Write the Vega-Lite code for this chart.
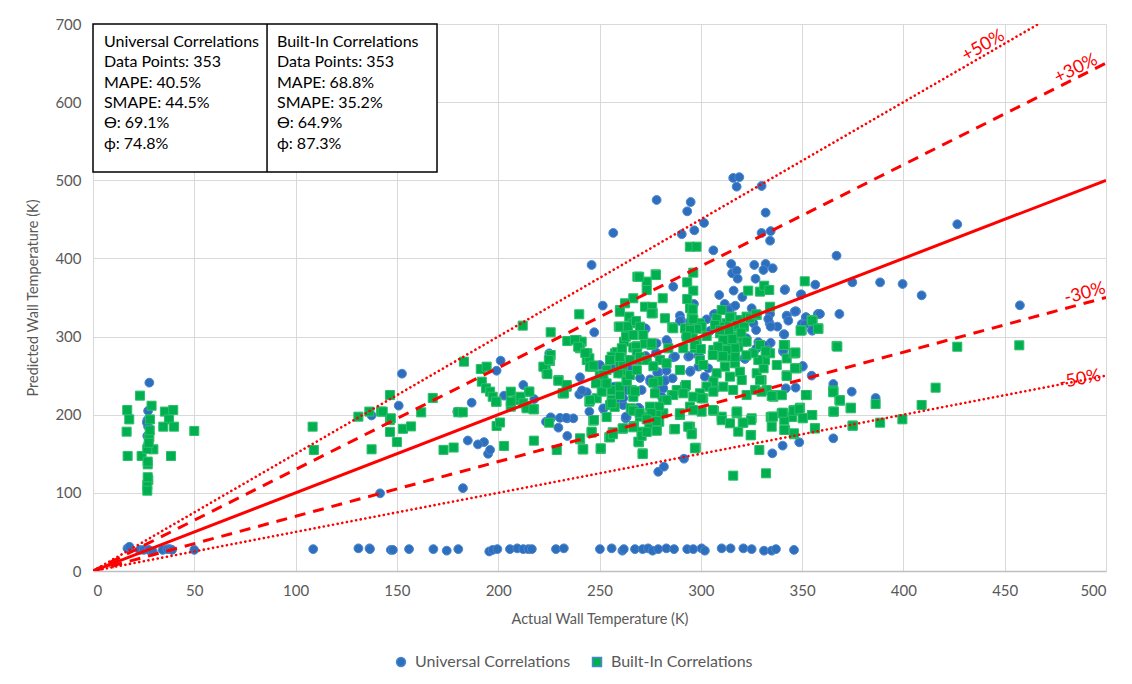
{
  "$schema": "https://vega.github.io/schema/vega-lite/v6.json",
  "width": 1013,
  "height": 547,
  "autosize": {"type": "none"},
  "padding": {"left": 93, "top": 24, "right": 26, "bottom": 113},
  "background": "white",
  "config": {
    "font": "Lato",
    "view": {"stroke": null},
    "axis": {
      "labelFont": "Lato", "titleFont": "Lato",
      "labelFontSize": 15, "titleFontSize": 14.5,
      "labelColor": "#595959", "titleColor": "#595959",
      "titleFontWeight": "normal",
      "gridColor": "#d9d9d9", "gridWidth": 1,
      "ticks": false
    },
    "legend": {"labelFont": "Lato", "labelFontSize": 16, "labelColor": "#595959"}
  },
  "datasets": {
    "universal": [
      {"x":27.8,"y":241},{"x":27.2,"y":205},{"x":26.8,"y":193},{"x":26.6,"y":190},{"x":27.2,"y":185},{"x":26.8,"y":173},
      {"x":17,"y":29},{"x":18,"y":31},{"x":23,"y":27},{"x":25,"y":27},{"x":27.5,"y":27},{"x":29.5,"y":25},{"x":34.4,"y":27},{"x":36.7,"y":28},{"x":38,"y":28},{"x":39,"y":27},{"x":50,"y":27},
      {"x":108.7,"y":28},{"x":131,"y":29},{"x":136.5,"y":29},{"x":136.7,"y":28},{"x":147,"y":27},{"x":148,"y":27},{"x":156,"y":28},{"x":168,"y":28},{"x":174.6,"y":26},{"x":180.3,"y":28},{"x":195.6,"y":25},{"x":197.3,"y":27},{"x":199.6,"y":28},{"x":205.8,"y":28},{"x":209.4,"y":29},{"x":212.4,"y":28},{"x":214.9,"y":28},{"x":216.6,"y":28},{"x":228.5,"y":28},{"x":232.4,"y":29},{"x":250.2,"y":28},{"x":256,"y":29},{"x":261.3,"y":26},{"x":262,"y":28},{"x":267.5,"y":28},{"x":271.3,"y":28},{"x":274,"y":29},{"x":276.2,"y":26},{"x":279,"y":28},{"x":283,"y":29},{"x":286.8,"y":28},{"x":293.3,"y":28},{"x":296.3,"y":28},{"x":300.4,"y":29},{"x":302,"y":26},{"x":310.3,"y":29},{"x":314.7,"y":29},{"x":321,"y":29},{"x":325.1,"y":28},{"x":331.2,"y":26},{"x":335,"y":26},{"x":337.1,"y":28},{"x":346,"y":27},
      {"x":141.7,"y":99.4},{"x":137.5,"y":199},{"x":150.9,"y":211.6},{"x":152.5,"y":252.5},{"x":182.6,"y":106},{"x":185,"y":167},{"x":193,"y":165},{"x":195,"y":150},{"x":190,"y":162},{"x":196,"y":155},{"x":179.8,"y":203.9},{"x":186.9,"y":215.4},{"x":201.2,"y":269.2},{"x":199.2,"y":256.3},{"x":202.9,"y":224.4},{"x":212.4,"y":238},{"x":217.8,"y":220},{"x":223.6,"y":191},{"x":226.1,"y":195.4},{"x":229.7,"y":183.4},{"x":234.1,"y":195.4},{"x":237.1,"y":195.4},{"x":234.1,"y":172.8},{"x":225.2,"y":278.6},{"x":225.9,"y":196.7},{"x":230.5,"y":196},{"x":233.5,"y":196},{"x":240.4,"y":247.9},{"x":240,"y":226},{"x":243.7,"y":228.7},{"x":241.3,"y":231},{"x":245,"y":204},{"x":251.9,"y":207.3},{"x":246.1,"y":391.6},{"x":256.8,"y":432.6},{"x":251.6,"y":339.6},{"x":247.4,"y":305.5},{"x":263.4,"y":196.7},{"x":255,"y":261.4},{"x":264.2,"y":259.4},{"x":250.2,"y":263.6},{"x":262.9,"y":195.4},{"x":269.6,"y":208.2},{"x":279,"y":127},{"x":281.8,"y":133.5},{"x":291.7,"y":143.7},{"x":257.2,"y":235.9},{"x":261,"y":227.4},{"x":263.4,"y":231.6},{"x":259.3,"y":218.8},{"x":261.7,"y":212.4},{"x":266.7,"y":223},{"x":270.8,"y":231.6},{"x":275,"y":242.3},{"x":278.2,"y":231.6},{"x":278.2,"y":278.6},{"x":272.8,"y":310},{"x":278.2,"y":291.4},
      {"x":316,"y":503},{"x":319,"y":504},{"x":317.7,"y":491.8},{"x":330,"y":492.7},{"x":278.2,"y":474.8},{"x":295,"y":472.2},{"x":293.3,"y":460.3},{"x":332,"y":458.6},{"x":290.6,"y":431},{"x":296.8,"y":436},{"x":301.6,"y":445.4},{"x":330,"y":432.6},{"x":334.5,"y":435},{"x":334.2,"y":422.7},{"x":306.2,"y":410.4},{"x":367,"y":403.5},{"x":315,"y":392.9},{"x":326.4,"y":391.6},{"x":332,"y":392.9},{"x":335.5,"y":387.4},{"x":330.9,"y":385.2},{"x":315.5,"y":381},{"x":317.7,"y":384.3},{"x":318.2,"y":374.1},{"x":327,"y":374},{"x":341.6,"y":360.5},{"x":356.5,"y":366.4},{"x":374.8,"y":369.4},{"x":316.2,"y":358.8},{"x":286.4,"y":363.8},{"x":309.1,"y":353.2},{"x":320.5,"y":350.6},{"x":349.4,"y":353.6},{"x":296.6,"y":341.7},{"x":311.8,"y":341.7},{"x":314.7,"y":336.2},{"x":317,"y":339.5},{"x":325.1,"y":336.2},{"x":342.4,"y":326.8},{"x":347,"y":332.3},{"x":351.8,"y":324.7},{"x":357.8,"y":328.9},{"x":368.4,"y":328.9},{"x":289.7,"y":326.8},{"x":302.9,"y":322.1},{"x":290.2,"y":321.2},{"x":272.6,"y":310.6},{"x":307,"y":328.9},{"x":326,"y":317},{"x":334.2,"y":328.9},{"x":334,"y":317},{"x":337.8,"y":312.7},{"x":349.8,"y":316},{"x":355,"y":307.5},{"x":341,"y":302.9},{"x":294.3,"y":302},{"x":283.5,"y":293.5},{"x":297.6,"y":293.4},{"x":328.4,"y":293},{"x":334.5,"y":292},{"x":327.3,"y":284.1},{"x":340.6,"y":280.7},{"x":277.9,"y":279.4},{"x":272.8,"y":275.1},{"x":267.8,"y":270},{"x":286.4,"y":273.5},{"x":293.8,"y":274.3},{"x":298.8,"y":275.6},{"x":321.8,"y":271.3},{"x":350.3,"y":261.5},{"x":303.7,"y":259.4},{"x":295,"y":256.3},{"x":279.2,"y":254.3},{"x":283.1,"y":256.3},{"x":256.2,"y":259.4},{"x":264.6,"y":258.5},{"x":354.7,"y":250},{"x":282.3,"y":244.4},{"x":275,"y":245.3},{"x":270,"y":247},{"x":258.8,"y":227.4},{"x":261.7,"y":221},{"x":251.9,"y":208.2},{"x":269.6,"y":208},{"x":263,"y":197.5},{"x":365.4,"y":239.3},{"x":374.5,"y":229.5},{"x":342,"y":233.8},{"x":346.8,"y":234.6},{"x":281.5,"y":233.8},{"x":302.9,"y":235.9},{"x":307,"y":233},
      {"x":313.6,"y":334},{"x":346.3,"y":331.8},{"x":289.7,"y":320},{"x":306.5,"y":328.5},{"x":333.3,"y":322.5},{"x":334.5,"y":312.7},{"x":320.2,"y":319.5},{"x":327.3,"y":308.4},{"x":355.5,"y":309.7},{"x":304.5,"y":307.2},{"x":294.7,"y":319},{"x":283.1,"y":295.6},{"x":292.7,"y":299.9},{"x":297.9,"y":291.4},{"x":322.6,"y":297.8},{"x":327.5,"y":285},{"x":331.7,"y":288},{"x":340.7,"y":282.8},{"x":294.3,"y":275},{"x":299.2,"y":275},{"x":287.3,"y":274.3},
      {"x":278.5,"y":253.8},{"x":282.3,"y":243.2},{"x":286.1,"y":246.6},{"x":298.8,"y":261.5},{"x":294.7,"y":255},{"x":302,"y":248.7},{"x":306.2,"y":244.4},{"x":321.5,"y":272.2},{"x":333,"y":283},{"x":350.3,"y":262.3},{"x":280.7,"y":223},{"x":348.6,"y":164.7},{"x":340.4,"y":160.4},{"x":335.3,"y":150.6},{"x":269.2,"y":209},{"x":365.4,"y":169.8},
      {"x":426.6,"y":443.7},{"x":388.5,"y":369.4},{"x":399.6,"y":367.3},{"x":409,"y":352.8},{"x":457.5,"y":340},{"x":358.8,"y":328.9},{"x":386.3,"y":221.4},
      {"x":341.4,"y":359.6},{"x":349.6,"y":354.1},{"x":342.4,"y":326.3},{"x":343.2,"y":320.3},{"x":346.7,"y":332.3},{"x":351.9,"y":324.7},{"x":351.3,"y":315.7},{"x":354.9,"y":308.4},{"x":341.2,"y":302.9}
    ],
    "builtin": [
      {"x":23.2,"y":224.4},{"x":16.9,"y":206},{"x":17.9,"y":194},{"x":16.6,"y":178.3},{"x":28.9,"y":211.5},{"x":28.1,"y":194},{"x":35.5,"y":204},{"x":39.6,"y":206},{"x":37.5,"y":194},{"x":34.7,"y":184.7},{"x":40,"y":184.7},{"x":27.8,"y":171},{"x":27.3,"y":158.3},{"x":29.8,"y":155.7},{"x":17.1,"y":147.2},{"x":24,"y":147.2},{"x":38.5,"y":147.2},{"x":27,"y":136.5},{"x":27.3,"y":116.5},{"x":26.8,"y":110},{"x":26.8,"y":102.8},{"x":50,"y":179.2},{"x":26.8,"y":156},{"x":27,"y":140},{"x":27,"y":120},{"x":27.5,"y":164},{"x":28,"y":180},
      {"x":108.4,"y":184.7},{"x":109,"y":154.8},{"x":131,"y":197.5},{"x":136.4,"y":204},{"x":142.2,"y":204},{"x":137.5,"y":155.7},{"x":146.6,"y":225.2},{"x":146.6,"y":193.2},{"x":146.6,"y":178},{"x":143,"y":204},{"x":147,"y":195.4},{"x":167.7,"y":221.4},{"x":180.3,"y":203.1},{"x":182.5,"y":203.1},{"x":183.1,"y":267.9},{"x":150,"y":165},{"x":153,"y":182},{"x":157,"y":185},{"x":173,"y":155},{"x":178,"y":158},{"x":162,"y":203},
      {"x":268.7,"y":376.6},{"x":266.7,"y":349},{"x":262.6,"y":342.6},{"x":260.1,"y":334},{"x":240,"y":328.5},{"x":212.1,"y":314},{"x":225.9,"y":305.5},{"x":234.1,"y":294.3},{"x":238.7,"y":295.6},{"x":241.2,"y":293.5},{"x":240.4,"y":285},{"x":244,"y":278.6},{"x":243.7,"y":270},{"x":246.6,"y":261.5},{"x":225.9,"y":276.4},{"x":225.6,"y":268.7},{"x":223.4,"y":260.7},{"x":223.9,"y":253},{"x":229.8,"y":244.4},{"x":233.8,"y":235.9},{"x":232.1,"y":227.4},{"x":191.4,"y":258.5},{"x":194.3,"y":261.5},{"x":191.9,"y":242.3},{"x":194,"y":233.8},{"x":196,"y":229.5},{"x":197.3,"y":223},{"x":199.2,"y":216.7},{"x":206.2,"y":229.5},{"x":209.1,"y":218.8},{"x":215.2,"y":229.5},{"x":214,"y":210.3},{"x":217.7,"y":207},{"x":206.2,"y":210.3},{"x":250.2,"y":248.7},{"x":252.7,"y":240},{"x":248.6,"y":221},{"x":245,"y":216.7},{"x":256,"y":218.8},{"x":255.5,"y":270},{"x":257.7,"y":278.6},{"x":260.1,"y":265.8},{"x":262.1,"y":293.5},{"x":259.5,"y":312.7},{"x":263.4,"y":304.2},{"x":264.7,"y":325.5},{"x":266.4,"y":317},{"x":258.5,"y":280},{"x":266.7,"y":286},{"x":268.7,"y":288},{"x":261,"y":253},{"x":263.4,"y":244.4},{"x":256.8,"y":231.6},{"x":266.7,"y":223},{"x":265.4,"y":208.2},
      {"x":277.7,"y":379.7},{"x":273.3,"y":370.3},{"x":273.3,"y":359.6},{"x":272.5,"y":338.2},{"x":276,"y":338},{"x":276.3,"y":329.8},{"x":260.1,"y":312.7},{"x":264,"y":313},{"x":263.1,"y":299.9},{"x":268,"y":320},{"x":268,"y":287},{"x":272.5,"y":291},{"x":275.7,"y":289.2},{"x":260.9,"y":280.7},{"x":256,"y":274.3},{"x":237.9,"y":295.6},{"x":239.5,"y":287},
      {"x":294.6,"y":415},{"x":297.9,"y":415},{"x":269.6,"y":376.6},{"x":277.9,"y":378.8},{"x":296.3,"y":381.8},{"x":293.3,"y":369.4},{"x":296.3,"y":358.8},{"x":281.2,"y":349},{"x":293.3,"y":348.1},{"x":323.4,"y":358.8},{"x":329.2,"y":357.5},{"x":331.3,"y":365.1},{"x":333.8,"y":359.6},{"x":351.3,"y":370.7},{"x":260.1,"y":331.8},{"x":275.7,"y":329.8},{"x":282.3,"y":323.4},{"x":294.7,"y":336.2},{"x":295.5,"y":323.4},{"x":334.2,"y":338.2},{"x":315.2,"y":325.5},{"x":319.3,"y":321.2},{"x":322.6,"y":325.5},{"x":327.6,"y":327.6},{"x":312.7,"y":317},{"x":309.5,"y":312.7},{"x":299.6,"y":317},{"x":292.2,"y":310.6},{"x":285.9,"y":311.9},{"x":270,"y":312.7},{"x":266.7,"y":302},{"x":271.6,"y":302},{"x":261,"y":285},{"x":268.4,"y":278.6},{"x":275.7,"y":291.4},{"x":270.8,"y":270},{"x":279.9,"y":270},{"x":284,"y":285},{"x":283.1,"y":265.8},{"x":289.7,"y":257.2},{"x":294.7,"y":299.9},{"x":297.9,"y":293.5},{"x":297,"y":285},{"x":299.6,"y":270},{"x":301.2,"y":263.6},{"x":306.2,"y":282.8},{"x":309.5,"y":304.2},{"x":312.7,"y":308.4},{"x":315.2,"y":299.9},{"x":317.7,"y":312.7},{"x":319.3,"y":300},{"x":321,"y":293.5},{"x":318.5,"y":287},{"x":313.6,"y":287},{"x":309.5,"y":287},{"x":310.3,"y":274.3},{"x":314.9,"y":274.3},{"x":311.9,"y":261.5},{"x":316.9,"y":265.8},{"x":319.3,"y":255},{"x":314.4,"y":248.7},{"x":307.8,"y":253},{"x":306.2,"y":242.3},{"x":302.9,"y":236},{"x":299.6,"y":227.4},{"x":301.2,"y":221},{"x":296.3,"y":223},{"x":292.2,"y":236},{"x":288.1,"y":231.6},{"x":285.6,"y":225.2},{"x":281.5,"y":218.8},{"x":277.4,"y":227.4},{"x":274.9,"y":210.3},{"x":266.7,"y":206},{"x":270,"y":197.5},{"x":281.5,"y":201.8},{"x":289.7,"y":199.6},{"x":294.7,"y":210.3},{"x":300.4,"y":203.9},{"x":310.3,"y":197.5},{"x":317.7,"y":201.8},{"x":325.1,"y":195.4},{"x":322.6,"y":225.2},{"x":326.8,"y":231.6},{"x":330,"y":244.4},{"x":327.6,"y":253},{"x":331,"y":259.4},{"x":331.7,"y":270},{"x":328.4,"y":270},{"x":326,"y":278.6},{"x":329.2,"y":289.2},{"x":334.2,"y":278.6},{"x":332.5,"y":231.6},{"x":335.8,"y":223},{"x":337.5,"y":263.6},{"x":341.6,"y":289.2},{"x":342.4,"y":250.4},{"x":346.5,"y":279.4},{"x":347.3,"y":259.4},{"x":342.4,"y":272},{"x":352.3,"y":225.2},{"x":349.8,"y":308.4},{"x":354.7,"y":321.2},{"x":358,"y":310.6},{"x":367,"y":288},{"x":365.4,"y":229.5},{"x":368.4,"y":218.8},{"x":374,"y":208.2},{"x":365.4,"y":204},{"x":347.3,"y":206},{"x":339.9,"y":201.8},{"x":345,"y":197},{"x":334.5,"y":197},{"x":255.2,"y":270},{"x":253.5,"y":257.2},{"x":250.2,"y":250},{"x":251.9,"y":242.3},{"x":259.3,"y":253},{"x":256,"y":231.6},{"x":260.1,"y":225.2},{"x":255.2,"y":212.4},{"x":265.9,"y":231.6},{"x":257.5,"y":210},{"x":253.5,"y":197},
      {"x":296,"y":334.9},{"x":296.3,"y":322.1},{"x":286.4,"y":310.6},{"x":307.8,"y":323.4},{"x":310.3,"y":334},{"x":314.4,"y":324.7},{"x":317.7,"y":314.8},{"x":321.3,"y":312.7},{"x":324.3,"y":323.4},{"x":327.3,"y":328.5},{"x":307,"y":314.8},{"x":300.4,"y":312.7},{"x":298,"y":310},{"x":302.9,"y":300.8},{"x":309.5,"y":308.4},{"x":314,"y":308},{"x":311.1,"y":295.6},{"x":315.6,"y":297},{"x":320,"y":305},{"x":322.6,"y":293.5},{"x":316.9,"y":285},{"x":312.7,"y":282.8},{"x":308.6,"y":287},{"x":305.9,"y":276.4},{"x":311,"y":275},{"x":317,"y":274},{"x":322.5,"y":276},{"x":294.7,"y":308.4},{"x":296,"y":297.8},{"x":297.1,"y":289.2},{"x":293,"y":300},{"x":291.4,"y":285},{"x":300,"y":284},{"x":341.2,"y":289.2},{"x":345.7,"y":278.6},{"x":355.2,"y":321.2},{"x":358,"y":309.7},{"x":349.4,"y":308.4},{"x":332,"y":281},
      {"x":306.5,"y":205.1},{"x":310.3,"y":193},{"x":314.4,"y":189},{"x":318.5,"y":178.3},{"x":320.7,"y":189.8},{"x":324.8,"y":174},{"x":324.8,"y":193},{"x":318,"y":203.9},{"x":335,"y":197.5},{"x":335,"y":184.7},{"x":340.7,"y":201.8},{"x":341.2,"y":193},{"x":341.6,"y":180.5},{"x":346,"y":175},{"x":350.3,"y":195.4},{"x":355,"y":199.6},{"x":356.4,"y":182.6},{"x":346,"y":206},{"x":349,"y":209},{"x":328.9,"y":154.8},{"x":316,"y":122},{"x":332.2,"y":125},{"x":297.5,"y":157.8},{"x":286.9,"y":181.3},{"x":294.7,"y":184.7},{"x":295.5,"y":177},{"x":306,"y":206},{"x":292.7,"y":238},{"x":291.4,"y":227.4},{"x":286.4,"y":225.2},{"x":283.1,"y":218.8},{"x":279.5,"y":210.3},{"x":278.2,"y":199.6},{"x":278.2,"y":180.5},{"x":296.3,"y":206},{"x":289.7,"y":201.8},{"x":300.4,"y":221},{"x":306.2,"y":229.5},{"x":311.1,"y":235.9},{"x":316,"y":231.6},{"x":330,"y":229.5},{"x":335.8,"y":225.2},{"x":329.2,"y":244.4},{"x":320.2,"y":244.4},{"x":342.4,"y":249.5},{"x":346.5,"y":259.4},{"x":352,"y":225.2},{"x":346.5,"y":278.6},
      {"x":231.8,"y":227.4},{"x":240.4,"y":168.5},{"x":241.7,"y":155.7},{"x":246.1,"y":177},{"x":250.6,"y":156.1},{"x":246.9,"y":192.4},{"x":254.8,"y":171.1},{"x":256.5,"y":177.5},{"x":261.4,"y":182.1},{"x":266.7,"y":205.1},{"x":269.5,"y":164.7},{"x":271.3,"y":150.6},{"x":267,"y":185.6},{"x":270.8,"y":178.3},{"x":273.3,"y":197.5},{"x":274.6,"y":187.7},{"x":278.2,"y":179.5},{"x":279.5,"y":191},{"x":287.3,"y":181.7},{"x":293.8,"y":184.7},{"x":295.5,"y":175},{"x":297.1,"y":157},{"x":321,"y":189.8},{"x":324.6,"y":173.7},{"x":317.7,"y":203.9},{"x":335.6,"y":197.5},{"x":340.4,"y":202.6},{"x":341.2,"y":180.5},{"x":346,"y":176.2},{"x":345.7,"y":205.1},{"x":348.6,"y":207},{"x":350.3,"y":196},{"x":351.9,"y":225.2},{"x":354.9,"y":199.6},{"x":356.3,"y":182.6},{"x":365.7,"y":204},{"x":365.4,"y":231},{"x":368.7,"y":218},{"x":374,"y":209},{"x":374.9,"y":186},{"x":340,"y":225},{"x":335,"y":224},
      {"x":355,"y":320.3},{"x":357.8,"y":310.1},{"x":349.3,"y":307.5},{"x":367.4,"y":287.1},{"x":426.6,"y":287},{"x":457.2,"y":288.8},{"x":341,"y":289.2},{"x":346.7,"y":279.4},{"x":365.4,"y":228.7},{"x":368.7,"y":218.4},{"x":374.1,"y":208.6},{"x":386.3,"y":213.7},{"x":375,"y":186},{"x":388.5,"y":189.8},{"x":399.5,"y":194.1},{"x":409,"y":212.4},{"x":415.9,"y":234.6},
      {"x":198.9,"y":216.7},{"x":211,"y":223},{"x":206.2,"y":216.7},{"x":212.4,"y":214.6},{"x":215.4,"y":229.5},{"x":214,"y":208.2},{"x":217.4,"y":207},{"x":199.2,"y":185.6},{"x":200.9,"y":190},{"x":202.9,"y":160},{"x":217.6,"y":166.8},{"x":228.9,"y":154.8},{"x":225.2,"y":189.8},{"x":229.7,"y":243.5},{"x":233.8,"y":238},{"x":232.5,"y":227.4},{"x":222.3,"y":261.5},{"x":225,"y":270},{"x":224.3,"y":252},{"x":240.4,"y":169.8},{"x":242,"y":155.7},{"x":247.3,"y":193.2},{"x":246.1,"y":178.3},{"x":250.6,"y":157},{"x":255.2,"y":171.1},{"x":256.6,"y":175},{"x":261.7,"y":182.6},{"x":266.7,"y":183.9},{"x":269.2,"y":165.5},{"x":271.3,"y":149.7},{"x":270.8,"y":173},{"x":273.3,"y":178},{"x":269.8,"y":202},{"x":275.6,"y":202},{"x":273.3,"y":194},{"x":278.2,"y":192},{"x":251.1,"y":229.5},{"x":256,"y":214.6},{"x":245.3,"y":218.8},{"x":248.3,"y":240.2},{"x":251.9,"y":250.8},{"x":253.5,"y":240},{"x":260,"y":236},{"x":263.4,"y":243},{"x":265,"y":250.8},{"x":268.4,"y":257},{"x":261.7,"y":264},{"x":260,"y":274},{"x":265,"y":270},{"x":270,"y":274},{"x":273.3,"y":270},{"x":276.6,"y":262},{"x":279,"y":243},{"x":276.6,"y":241},{"x":267.5,"y":230},{"x":245,"y":272.2},{"x":243,"y":279},{"x":245.3,"y":261.5},{"x":247,"y":263}
    ],
    "guides": [
      {"line":"+50%","x":0,"y":0},{"line":"+50%","x":500,"y":750},
      {"line":"+30%","x":0,"y":0},{"line":"+30%","x":500,"y":650},
      {"line":"0%","x":0,"y":0},{"line":"0%","x":500,"y":500},
      {"line":"-30%","x":0,"y":0},{"line":"-30%","x":500,"y":350},
      {"line":"-50%","x":0,"y":0},{"line":"-50%","x":500,"y":250}
    ],
    "origin": [
      {"x":8,"y":8},{"x":10,"y":10},{"x":12,"y":12},{"x":10,"y":13},{"x":10,"y":7}
    ],
    "single": [{}]
  },
  "layer": [
    {
      "data": {"name": "universal"},
      "mark": {"type": "point", "filled": true, "size": 78, "opacity": 1, "stroke": "#4a86cf", "strokeWidth": 1},
      "encoding": {
        "x": {"field": "x", "type": "quantitative", "scale": {"domain": [0, 500], "nice": false},
              "axis": {"title": "Actual Wall Temperature (K)", "values": [0,50,100,150,200,250,300,350,400,450,500], "labelPadding": 12, "titlePadding": 14, "domainColor": "#bfbfbf", "domainWidth": 1.5}},
        "y": {"field": "y", "type": "quantitative", "scale": {"domain": [0, 700], "nice": false},
              "axis": {"title": "Predicted Wall Temperature (K)", "values": [0,100,200,300,400,500,600,700], "labelPadding": 12, "titlePadding": 14, "domainColor": "#d9d9d9"}},
        "color": {"datum": "Universal Correlations", "type": "nominal",
                  "scale": {"domain": ["Universal Correlations", "Built-In Correlations"], "range": ["#2e6fbd", "#00b050"]},
                  "legend": {"title": null, "orient": "none", "legendX": 300, "legendY": 630, "direction": "horizontal", "columnPadding": 18, "symbolSize": 80, "labelOffset": 6}},
        "shape": {"datum": "Universal Correlations", "type": "nominal",
                  "scale": {"domain": ["Universal Correlations", "Built-In Correlations"], "range": ["circle", "square"]},
                  "legend": {"title": null, "orient": "none", "legendX": 300, "legendY": 630, "direction": "horizontal", "columnPadding": 18, "symbolSize": 80, "labelOffset": 6}}
      }
    },
    {
      "data": {"name": "builtin"},
      "mark": {"type": "point", "filled": true, "size": 82, "opacity": 1, "stroke": "#2cbf6a", "strokeWidth": 1},
      "encoding": {
        "x": {"field": "x", "type": "quantitative"},
        "y": {"field": "y", "type": "quantitative"},
        "color": {"datum": "Built-In Correlations", "type": "nominal"},
        "shape": {"datum": "Built-In Correlations", "type": "nominal"}
      }
    },
    {
      "data": {"name": "guides"},
      "transform": [{"filter": "datum.line === '0%'"}],
      "mark": {"type": "line", "color": "#ff0000", "strokeWidth": 3, "clip": true},
      "encoding": {
        "x": {"field": "x", "type": "quantitative"},
        "y": {"field": "y", "type": "quantitative"},
        "detail": {"field": "line"}
      }
    },
    {
      "data": {"name": "guides"},
      "transform": [{"filter": "datum.line === '+30%' || datum.line === '-30%'"}],
      "mark": {"type": "line", "color": "#ff0000", "strokeWidth": 3, "strokeDash": [11, 8], "clip": true},
      "encoding": {
        "x": {"field": "x", "type": "quantitative"},
        "y": {"field": "y", "type": "quantitative"},
        "detail": {"field": "line"}
      }
    },
    {
      "data": {"name": "guides"},
      "transform": [{"filter": "datum.line === '+50%' || datum.line === '-50%'"}],
      "mark": {"type": "line", "color": "#ff0000", "strokeWidth": 2.6, "strokeDash": [0.1, 4.6], "strokeCap": "round", "clip": true},
      "encoding": {
        "x": {"field": "x", "type": "quantitative"},
        "y": {"field": "y", "type": "quantitative"},
        "detail": {"field": "line"}
      }
    },
    {
      "data": {"name": "origin"},
      "mark": {"type": "point", "shape": "cross", "filled": true, "color": "#ff0000", "size": 30},
      "encoding": {
        "x": {"field": "x", "type": "quantitative"},
        "y": {"field": "y", "type": "quantitative"}
      }
    },
    {
      "data": {"name": "single"},
      "mark": {"type": "text", "text": "+50%", "color": "#ff0000", "fontSize": 18, "angle": -30, "align": "center", "baseline": "middle"},
      "encoding": {"x": {"datum": 439.5}, "y": {"datum": 672}}
    },
    {
      "data": {"name": "single"},
      "mark": {"type": "text", "text": "+30%", "color": "#ff0000", "fontSize": 18, "angle": -26, "align": "center", "baseline": "middle"},
      "encoding": {"x": {"datum": 485.2}, "y": {"datum": 642.5}}
    },
    {
      "data": {"name": "single"},
      "mark": {"type": "text", "text": "-30%", "color": "#ff0000", "fontSize": 18, "angle": -15, "align": "center", "baseline": "middle"},
      "encoding": {"x": {"datum": 489.6}, "y": {"datum": 355}}
    },
    {
      "data": {"name": "single"},
      "mark": {"type": "text", "text": "-50%", "color": "#ff0000", "fontSize": 18, "angle": -11, "align": "center", "baseline": "middle"},
      "encoding": {"x": {"datum": 487.2}, "y": {"datum": 245}}
    },
    {
      "data": {"name": "single"},
      "mark": {"type": "rect", "fill": "white", "stroke": "black", "strokeWidth": 1.5},
      "encoding": {"x": {"datum": 0}, "x2": {"datum": 169.8}, "y": {"datum": 510.6}, "y2": {"datum": 700}}
    },
    {
      "data": {"name": "single"},
      "mark": {"type": "rule", "color": "black", "strokeWidth": 1.5},
      "encoding": {"x": {"datum": 85.9}, "y": {"datum": 510.6}, "y2": {"datum": 700}}
    },
    {
      "data": {"name": "single"},
      "mark": {"type": "text", "align": "left", "baseline": "alphabetic", "fontSize": 16, "lineHeight": 20.3, "color": "#000000",
               "text": ["Universal Correlations", "Data Points: 353", "MAPE: 40.5%", "SMAPE: 44.5%", "ϴ: 69.1%", "ϕ: 74.8%"]},
      "encoding": {"x": {"datum": 5.4}, "y": {"datum": 670.5}}
    },
    {
      "data": {"name": "single"},
      "mark": {"type": "text", "align": "left", "baseline": "alphabetic", "fontSize": 16, "lineHeight": 20.3, "color": "#000000",
               "text": ["Built-In Correlations", "Data Points: 353", "MAPE: 68.8%", "SMAPE: 35.2%", "ϴ: 64.9%", "ϕ: 87.3%"]},
      "encoding": {"x": {"datum": 90.8}, "y": {"datum": 670.5}}
    }
  ]
}
